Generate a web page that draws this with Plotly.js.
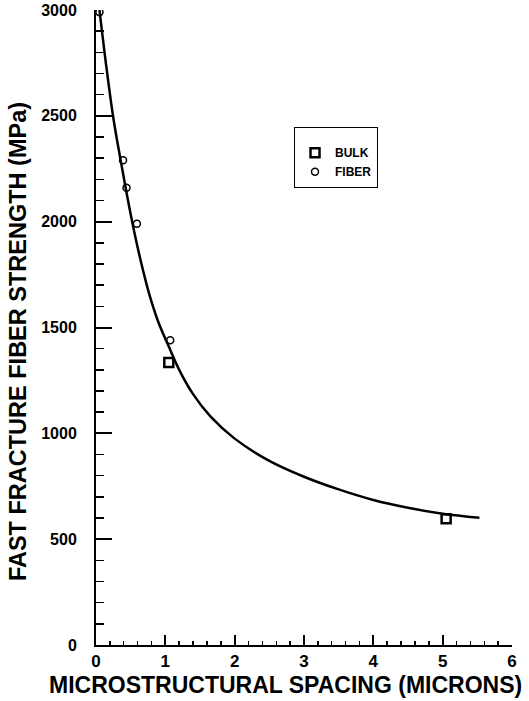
<!DOCTYPE html>
<html>
<head>
<meta charset="utf-8">
<script src="https://cdn.plot.ly/plotly-3.0.1.min.js"></script>
<style>html,body{margin:0;padding:0;background:#fff;}#chart{width:529px;height:701px;}</style>
</head>
<body>
<div id="chart"></div>
<script>
// Fitted curve
const curveX = [0.05, 0.15, 0.25, 0.35, 0.45, 0.55, 0.65, 0.77, 0.90, 1.05, 1.20, 1.40, 1.65, 2.00, 2.50, 3.00, 3.50, 4.00, 4.50, 5.00, 5.53];
const curveY = [3000, 2730, 2490, 2300, 2120, 1955, 1808, 1655, 1525, 1410, 1300, 1185, 1080, 975, 870, 795, 735, 685, 648, 620, 601];
// Bulk data (squares)
const bulkX = [1.05, 5.05];
const bulkY = [1335, 596];
// Fiber data (circles)
const fiberX = [0.05, 0.39, 0.44, 0.59, 1.07];
const fiberY = [2990, 2290, 2160, 1990, 1440];
// Tick labels
const xTicks = [0, 1, 2, 3, 4, 5, 6];
const yTicks = [0, 500, 1000, 1500, 2000, 2500, 3000];
const xMinorStep = 0.2;
const yMinorStep = 100;
const xTitle = 'MICROSTRUCTURAL SPACING (MICRONS)';
const yTitle = 'FAST FRACTURE FIBER STRENGTH (MPa)';

const FONT = '"Liberation Sans", Arial, Helvetica, sans-serif';
const xRange = [xTicks[0], xTicks[xTicks.length - 1]];
const yRange = [yTicks[0], yTicks[yTicks.length - 1]];

const traces = [
  {x: curveX, y: curveY, xaxis: 'x2', yaxis: 'y2', mode: 'lines',
   line: {color: '#000', width: 2.5, shape: 'spline'}, showlegend: false, hoverinfo: 'skip'},
  {x: bulkX, y: bulkY, mode: 'markers', name: 'BULK',
   marker: {symbol: 'square-open', size: 9, color: '#000', line: {width: 2.5, color: '#000'}}},
  {x: fiberX, y: fiberY, mode: 'markers', name: 'FIBER',
   marker: {symbol: 'circle-open', size: 7, color: '#000', line: {width: 1.5, color: '#000'}}}
];

const layout = {
  width: 529, height: 701,
  margin: {l: 96, r: 17, t: 10, b: 56},
  paper_bgcolor: '#fff', plot_bgcolor: '#fff',
  font: {family: FONT, color: '#000', size: 13, weight: 'bold'},
  showlegend: true,
  legend: {x: 0.476, y: 0.816, xanchor: 'left', yanchor: 'top',
    bgcolor: '#fff', bordercolor: '#000', borderwidth: 1, entrywidth: 77,
    title: {text: '\u00a0', font: {size: 8}},
    font: {family: FONT, size: 12, weight: 'bold', color: '#000'}},
  xaxis: {
    range: xRange, tickmode: 'array', tickvals: xTicks, ticktext: xTicks.map(String),
    showgrid: false, zeroline: false, showline: true, linecolor: '#000', linewidth: 2,
    ticks: 'inside', ticklen: 10, tickwidth: 2, tickcolor: '#000',
    tickfont: {family: FONT, size: 17, weight: 'bold'},
    automargin: false
  },
  yaxis: {
    range: yRange, tickmode: 'array', tickvals: yTicks, ticktext: yTicks.map(String),
    showgrid: false, zeroline: false, showline: true, linecolor: '#000', linewidth: 2,
    ticks: 'inside', ticklen: 16, tickwidth: 2, tickcolor: '#000',
    ticklabelstandoff: 14,
    tickfont: {family: FONT, size: 16, weight: 'bold'},
    automargin: false
  },
  // overlay axes carrying the minor ticks
  xaxis2: {
    overlaying: 'x', anchor: 'y2', side: 'bottom', range: xRange,
    tickmode: 'linear', tick0: xRange[0], dtick: xMinorStep,
    showgrid: false, zeroline: false, showline: false, showticklabels: false,
    ticks: 'inside', ticklen: 4, tickwidth: 1.5, tickcolor: '#000', automargin: false
  },
  yaxis2: {
    overlaying: 'y', anchor: 'x2', side: 'left', range: yRange,
    tickmode: 'linear', tick0: yRange[0], dtick: yMinorStep,
    showgrid: false, zeroline: false, showline: false, showticklabels: false,
    ticks: 'inside', ticklen: 8, tickwidth: 1.5, tickcolor: '#000', automargin: false
  },
  annotations: [
    {text: xTitle, xref: 'paper', yref: 'paper', x: 0.4567, y: -0.063,
     xanchor: 'center', yanchor: 'middle', showarrow: false,
     font: {family: FONT, size: 23, weight: 'bold', color: '#000'}},
    {text: yTitle, xref: 'paper', yref: 'paper', x: -0.1875, y: 0.477, textangle: -90,
     xanchor: 'center', yanchor: 'middle', showarrow: false,
     font: {family: FONT, size: 23.5, weight: 'bold', color: '#000'}}
  ]
};

Plotly.newPlot('chart', traces, layout, {displayModeBar: false, staticPlot: true});
</script>
</body>
</html>
